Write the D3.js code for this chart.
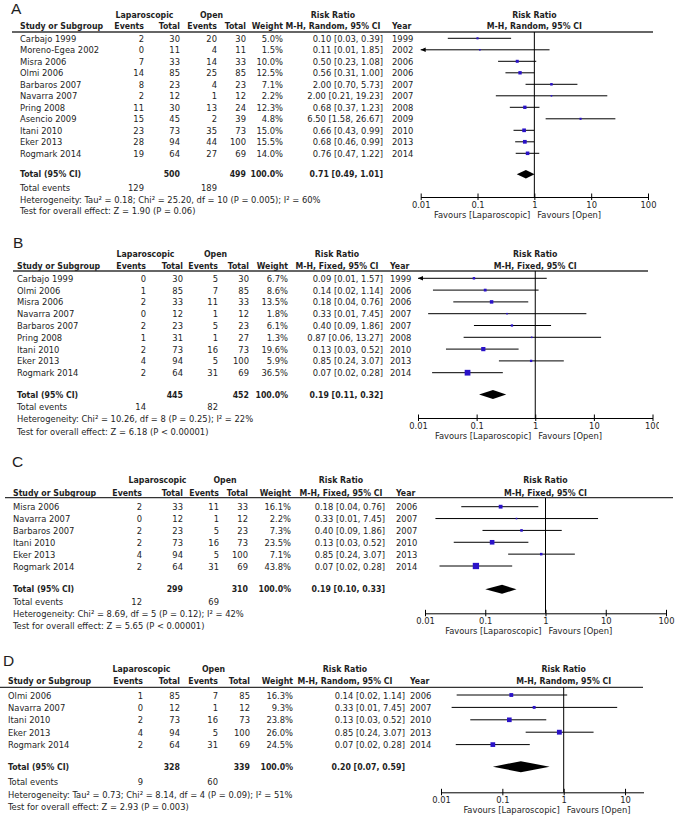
<!DOCTYPE html>
<html><head><meta charset="utf-8">
<script src="https://cdn.jsdelivr.net/npm/d3@7"></script>
<style>
html,body{margin:0;padding:0;background:#fff;}
svg{display:block;}
text{font-family:"DejaVu Sans Condensed","DejaVu Sans",sans-serif;font-stretch:condensed;fill:#1e1e1e;}
</style></head><body>
<svg id="chart" width="677" height="821"></svg>
<script>
// ---------------- data ----------------
const tickValuesFull = [0.01, 0.1, 1, 10, 100];
const tickLabelsFull = ["0.01", "0.1", "1", "10", "100"];
const tickValuesD = [0.01, 0.1, 1, 10];
const tickLabelsD = ["0.01", "0.1", "1", "10"];

// Panel A (M-H, Random)
const studiesA = ["Carbajo 1999","Moreno-Egea 2002","Misra 2006","Olmi 2006","Barbaros 2007","Navarra 2007","Pring 2008","Asencio 2009","Itani 2010","Eker 2013","Rogmark 2014"];
const lapEventsA = [2,0,7,14,8,2,11,15,23,28,19];
const lapTotalA = [30,11,33,85,23,12,30,45,73,94,64];
const openEventsA = [20,4,14,25,4,1,13,2,35,44,27];
const openTotalA = [30,11,33,85,23,12,24,39,73,100,69];
const weightA = [5.0,1.5,10.0,12.5,7.1,2.2,12.3,4.8,15.0,15.5,14.0];
const rrA = [0.10,0.11,0.50,0.56,2.00,2.00,0.68,6.50,0.66,0.68,0.76];
const loA = [0.03,0.0067,0.23,0.31,0.70,0.21,0.37,1.58,0.43,0.46,0.47];
const hiA = [0.39,1.85,1.08,1.00,5.73,19.23,1.23,26.67,0.99,0.99,1.22];
const yearA = [1999,2002,2006,2006,2007,2007,2008,2009,2010,2013,2014];
const totalsA = [500, 499];
const pooledA = [0.71, 0.49, 1.01];
const totalEventsA = [129, 189];
const hetA = "Heterogeneity: Tau\u00B2 = 0.18; Chi\u00B2 = 25.20, df = 10 (P = 0.005); I\u00B2 = 60%";
const testA = "Test for overall effect: Z = 1.90 (P = 0.06)";

// Panel B (M-H, Fixed)
const studiesB = ["Carbajo 1999","Olmi 2006","Misra 2006","Navarra 2007","Barbaros 2007","Pring 2008","Itani 2010","Eker 2013","Rogmark 2014"];
const lapEventsB = [0,1,2,0,2,1,2,4,2];
const lapTotalB = [30,85,33,12,23,31,73,94,64];
const openEventsB = [5,7,11,1,5,1,16,5,31];
const openTotalB = [30,85,33,12,23,27,73,100,69];
const weightB = [6.7,8.6,13.5,1.8,6.1,1.3,19.6,5.9,36.5];
const rrB = [0.09,0.14,0.18,0.33,0.40,0.87,0.13,0.85,0.07];
const loB = [0.0053,0.018,0.04,0.0149,0.09,0.06,0.03,0.24,0.0174];
const hiB = [1.57,1.14,0.76,7.45,1.86,13.27,0.52,3.07,0.28];
const yearB = [1999,2006,2006,2007,2007,2008,2010,2013,2014];
const totalsB = [445, 452];
const pooledB = [0.19, 0.11, 0.32];
const totalEventsB = [14, 82];
const hetB = "Heterogeneity: Chi\u00B2 = 10.26, df = 8 (P = 0.25); I\u00B2 = 22%";
const testB = "Test for overall effect: Z = 6.18 (P < 0.00001)";

// Panel C (M-H, Fixed)
const studiesC = ["Misra 2006","Navarra 2007","Barbaros 2007","Itani 2010","Eker 2013","Rogmark 2014"];
const lapEventsC = [2,0,2,2,4,2];
const lapTotalC = [33,12,23,73,94,64];
const openEventsC = [11,1,5,16,5,31];
const openTotalC = [33,12,23,73,100,69];
const weightC = [16.1,2.2,7.3,23.5,7.1,43.8];
const rrC = [0.18,0.33,0.40,0.13,0.85,0.07];
const loC = [0.04,0.0149,0.09,0.03,0.24,0.0174];
const hiC = [0.76,7.45,1.86,0.52,3.07,0.28];
const yearC = [2006,2007,2007,2010,2013,2014];
const totalsC = [299, 310];
const pooledC = [0.19, 0.10, 0.33];
const totalEventsC = [12, 69];
const hetC = "Heterogeneity: Chi\u00B2 = 8.69, df = 5 (P = 0.12); I\u00B2 = 42%";
const testC = "Test for overall effect: Z = 5.65 (P < 0.00001)";

// Panel D (M-H, Random)
const studiesD = ["Olmi 2006","Navarra 2007","Itani 2010","Eker 2013","Rogmark 2014"];
const lapEventsD = [1,0,2,4,2];
const lapTotalD = [85,12,73,94,64];
const openEventsD = [7,1,16,5,31];
const openTotalD = [85,12,73,100,69];
const weightD = [16.3,9.3,23.8,26.0,24.5];
const rrD = [0.14,0.33,0.13,0.85,0.07];
const loD = [0.018,0.0149,0.03,0.24,0.0174];
const hiD = [1.14,7.45,0.52,3.07,0.28];
const yearD = [2006,2007,2010,2013,2014];
const totalsD = [328, 339];
const pooledD = [0.20, 0.07, 0.59];
const totalEventsD = [9, 60];
const hetD = "Heterogeneity: Tau\u00B2 = 0.73; Chi\u00B2 = 8.14, df = 4 (P = 0.09); I\u00B2 = 51%";
const testD = "Test for overall effect: Z = 2.93 (P = 0.003)";

// ---------------- layout ----------------
const FS = 9.3, FSB = 8.7;
const SQUARE = "#2a12c8";
const svg = d3.select("#chart");

const layouts = [
  {letter:"A", method:"M-H, Random, 95% CI", letterX:11, letterY:8, h1:15, h2:26, line:32, lineX0:12, lineX1:653,
   row0:38.3, step:11.5, total:174.2, totEv:187, het:199, test:210, axisY:197,
   study:20, lapEv:144, lapTot:180, opEv:217, opTot:246, weight:283, rr:383, year:392,
   lapC:144.5, openC:211.5, rrC:333, x0:420.7, x1:648, dom:[0.01,100], dh:4.2, clip:null},
  {letter:"B", method:"M-H, Fixed, 95% CI", letterX:13, letterY:242, h1:253.8, h2:265.7, line:271, lineX0:13, lineX1:648,
   row0:278.3, step:11.8, total:394.5, totEv:406.3, het:418.3, test:431, axisY:418,
   study:17, lapEv:146, lapTot:183, opEv:218, opTot:249, weight:288, rr:383, year:390,
   lapC:145.5, openC:215.5, rrC:337, x0:418, x1:652.5, dom:[0.01,100], dh:4.5, clip:659},
  {letter:"C", method:"M-H, Fixed, 95% CI", letterX:12, letterY:461, h1:480, h2:492.7, line:497.7, lineX0:5, lineX1:673,
   row0:506.7, step:11.86, total:589.3, totEv:601, het:613.3, test:625, axisY:613.3,
   study:13, lapEv:142, lapTot:183, opEv:219, opTot:248, weight:291, rr:385, year:396,
   lapC:157.5, openC:225, rrC:341, x0:425, x1:666, dom:[0.01,100], dh:4.5, clip:null},
  {letter:"D", method:"M-H, Random, 95% CI", letterX:3, letterY:660, h1:669, h2:681, line:687.3, lineX0:0, lineX1:643,
   row0:695, step:12.4, total:766.7, totEv:781.7, het:794, test:806, axisY:792.3,
   study:8, lapEv:143, lapTot:180, opEv:218, opTot:250, weight:293, rr:405, year:410,
   lapC:141.5, openC:213.5, rrC:345, x0:441, x1:643.5, dom:[0.01,20], dh:5.5, clip:null}
];

const panels = [
  {studies:studiesA, le:lapEventsA, lt:lapTotalA, oe:openEventsA, ot:openTotalA, w:weightA, rr:rrA, lo:loA, hi:hiA, yr:yearA,
   totals:totalsA, pooled:pooledA, tev:totalEventsA, het:hetA, test:testA, tv:tickValuesFull, tl:tickLabelsFull},
  {studies:studiesB, le:lapEventsB, lt:lapTotalB, oe:openEventsB, ot:openTotalB, w:weightB, rr:rrB, lo:loB, hi:hiB, yr:yearB,
   totals:totalsB, pooled:pooledB, tev:totalEventsB, het:hetB, test:testB, tv:tickValuesFull, tl:tickLabelsFull},
  {studies:studiesC, le:lapEventsC, lt:lapTotalC, oe:openEventsC, ot:openTotalC, w:weightC, rr:rrC, lo:loC, hi:hiC, yr:yearC,
   totals:totalsC, pooled:pooledC, tev:totalEventsC, het:hetC, test:testC, tv:tickValuesFull, tl:tickLabelsFull},
  {studies:studiesD, le:lapEventsD, lt:lapTotalD, oe:openEventsD, ot:openTotalD, w:weightD, rr:rrD, lo:loD, hi:hiD, yr:yearD,
   totals:totalsD, pooled:pooledD, tev:totalEventsD, het:hetD, test:testD, tv:tickValuesD, tl:tickLabelsD}
];

const fmt2 = v => v.toFixed(2);
const ciText = (r, l, h) => `${fmt2(r)} [${fmt2(l)}, ${fmt2(h)}]`;

function txt(g, x, y, s, opts = {}) {
  const t = g.append("text").attr("x", x).attr("y", y)
    .attr("dominant-baseline", "central")
    .attr("text-anchor", opts.anchor || "start")
    .style("font-size", (opts.bold ? FSB : FS) + "px")
    .style("font-weight", opts.bold ? "bold" : "normal")
    .text(s);
  return t;
}

layouts.forEach((p, pi) => {
  const d = panels[pi];
  const g = svg.append("g");
  const n = d.studies.length;
  const y = d3.scaleLinear().domain([0, n - 1]).range([p.row0, p.row0 + (n - 1) * p.step]);
  const x = d3.scaleLog().domain(p.dom).range([p.x0, p.x1]);

  // panel letter
  g.append("text").attr("x", p.letterX).attr("y", p.letterY).attr("dominant-baseline", "central")
    .style("font-family", "'Liberation Sans', Arial, sans-serif").style("font-stretch", "normal")
    .style("font-size", "15.5px").text(p.letter);

  // header row 1
  txt(g, p.lapC, p.h1, "Laparoscopic", {bold:true, anchor:"middle"});
  txt(g, p.openC, p.h1, "Open", {bold:true, anchor:"middle"});
  txt(g, p.rrC, p.h1, "Risk Ratio", {bold:true, anchor:"middle"});
  txt(g, x(1), p.h1, "Risk Ratio", {bold:true, anchor:"middle"});
  // header row 2
  txt(g, p.study, p.h2, "Study or Subgroup", {bold:true});
  txt(g, p.lapEv, p.h2, "Events", {bold:true, anchor:"end"});
  txt(g, p.lapTot, p.h2, "Total", {bold:true, anchor:"end"});
  txt(g, p.opEv, p.h2, "Events", {bold:true, anchor:"end"});
  txt(g, p.opTot, p.h2, "Total", {bold:true, anchor:"end"});
  txt(g, p.weight, p.h2, "Weight", {bold:true, anchor:"end"});
  txt(g, p.rrC, p.h2, p.method, {bold:true, anchor:"middle"});
  txt(g, p.year, p.h2, "Year", {bold:true});
  txt(g, x(1), p.h2, p.method, {bold:true, anchor:"middle"});

  g.append("line").attr("x1", p.lineX0).attr("x2", p.lineX1).attr("y1", p.line).attr("y2", p.line)
    .attr("stroke", "#333").attr("stroke-width", 1.3);

  // study rows
  d.studies.forEach((s, i) => {
    const yy = y(i);
    txt(g, p.study, yy, s);
    txt(g, p.lapEv, yy, d.le[i], {anchor:"end"});
    txt(g, p.lapTot, yy, d.lt[i], {anchor:"end"});
    txt(g, p.opEv, yy, d.oe[i], {anchor:"end"});
    txt(g, p.opTot, yy, d.ot[i], {anchor:"end"});
    txt(g, p.weight, yy, d.w[i].toFixed(1) + "%", {anchor:"end"});
    txt(g, p.rr, yy, ciText(d.rr[i], d.lo[i], d.hi[i]), {anchor:"end"});
    txt(g, p.year, yy, d.yr[i]);
  });

  // totals
  txt(g, p.study, p.total, "Total (95% CI)", {bold:true});
  txt(g, p.lapTot, p.total, d.totals[0], {bold:true, anchor:"end"});
  txt(g, p.opTot, p.total, d.totals[1], {bold:true, anchor:"end"});
  txt(g, p.weight, p.total, "100.0%", {bold:true, anchor:"end"});
  txt(g, p.rr, p.total, ciText(d.pooled[0], d.pooled[1], d.pooled[2]), {bold:true, anchor:"end"});
  txt(g, p.study, p.totEv, "Total events");
  txt(g, p.lapEv, p.totEv, d.tev[0], {anchor:"end"});
  txt(g, p.opEv, p.totEv, d.tev[1], {anchor:"end"});
  txt(g, p.study, p.het, d.het);
  txt(g, p.study, p.test, d.test);

  // plot area
  const pg = g.append("g");
  if (p.clip) {
    const id = "clip" + p.letter;
    svg.append("defs").append("clipPath").attr("id", id).append("rect")
      .attr("x", 0).attr("y", 0).attr("width", p.clip).attr("height", 821);
    pg.attr("clip-path", `url(#${id})`);
  }
  // line of no effect
  pg.append("line").attr("x1", x(1)).attr("x2", x(1)).attr("y1", p.line).attr("y2", p.axisY)
    .attr("stroke", "#000").attr("stroke-width", 1);

  // CI lines + arrows + squares
  d.studies.forEach((s, i) => {
    const yy = y(i);
    const lo = Math.max(d.lo[i], p.dom[0]), hi = Math.min(d.hi[i], p.dom[1]);
    pg.append("line").attr("x1", x(lo)).attr("x2", x(hi)).attr("y1", yy).attr("y2", yy)
      .attr("stroke", "#000").attr("stroke-width", 1);
    if (d.lo[i] < p.dom[0]) {
      const ax = x(p.dom[0]);
      pg.append("path").attr("d", `M${ax},${yy} L${ax + 5},${yy - 2.2} L${ax + 5},${yy + 2.2} Z`).attr("fill", "#000");
    }
    if (d.hi[i] > p.dom[1]) {
      const ax = x(p.dom[1]);
      pg.append("path").attr("d", `M${ax},${yy} L${ax - 5},${yy - 2.2} L${ax - 5},${yy + 2.2} Z`).attr("fill", "#000");
    }
    const side = Math.max(1.6, 0.95 * Math.sqrt(d.w[i]));
    pg.append("rect").attr("x", x(d.rr[i]) - side / 2).attr("y", yy - side / 2)
      .attr("width", side).attr("height", side).attr("fill", SQUARE);
  });

  // diamond
  const yt = p.total;
  pg.append("path")
    .attr("d", `M${x(d.pooled[1])},${yt} L${x(d.pooled[0])},${yt - p.dh} L${x(d.pooled[2])},${yt} L${x(d.pooled[0])},${yt + p.dh} Z`)
    .attr("fill", "#000");

  // axis
  const axis = d3.axisBottom(x).tickValues(d.tv).tickFormat((v, i) => d.tl[i]).tickSizeInner(3).tickSizeOuter(0);
  const ag = pg.append("g").attr("transform", `translate(0,${p.axisY})`).call(axis);
  ag.attr("font-size", null).attr("font-family", null);
  ag.select(".domain").attr("stroke", "#000");
  ag.selectAll(".tick line").attr("y1", -3.5).attr("y2", 3).attr("stroke", "#000");
  ag.selectAll(".tick text").attr("y", 7).attr("dy", null).attr("dominant-baseline", "central")
    .style("font-size", FS + "px").attr("fill", "#1e1e1e");

  txt(pg, x(1) - 4, p.axisY + 17.5, "Favours [Laparoscopic]", {anchor:"end"});
  txt(pg, x(1) + 3, p.axisY + 17.5, "Favours [Open]");
});
</script>
</body></html>
